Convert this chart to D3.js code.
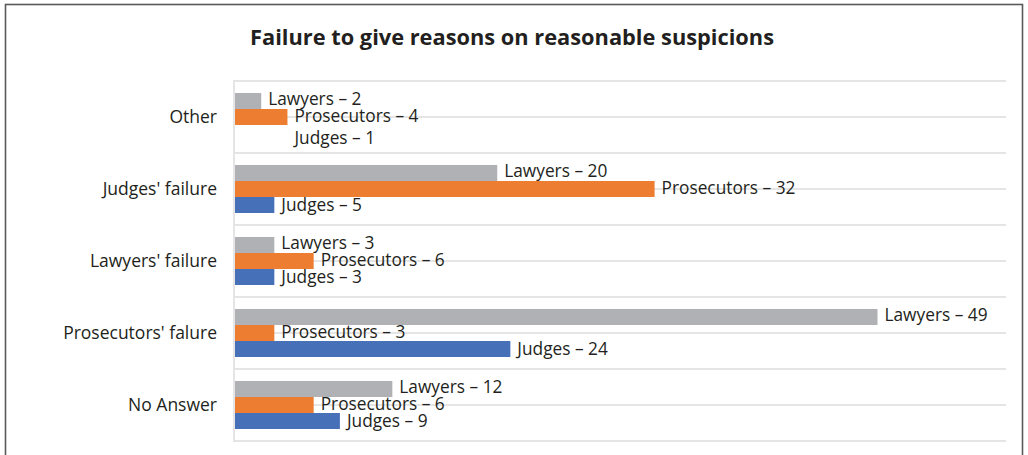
<!DOCTYPE html>
<html>
<head>
<meta charset="utf-8">
<script src="https://cdn.jsdelivr.net/npm/d3@7"></script>
<style>
  html, body { margin: 0; padding: 0; background: #fff; }
  svg { display: block; }
  text { font-family: "Open Sans", "Noto Sans", sans-serif; fill: #231f20; }
</style>
</head>
<body>
<svg id="chart" width="1028" height="455"></svg>
<script>
// ---- data ----
const title = "Failure to give reasons on reasonable suspicions";
const categories = ["Other", "Judges' failure", "Lawyers' failure", "Prosecutors' falure", "No Answer"];
const seriesNames = ["Lawyers", "Prosecutors", "Judges"];
// bar lengths as drawn in the picture
const lawyersBars     = [2, 20, 3, 49, 12];
const prosecutorsBars = [4, 32, 6, 3, 6];
const judgesBars      = [0, 3, 3, 21, 8];
// values written in the labels
const lawyersLabels     = [2, 20, 3, 49, 12];
const prosecutorsLabels = [4, 32, 6, 3, 6];
const judgesLabels      = [1, 5, 3, 24, 9];
const xMax = 58.8;

// ---- build ----
const colors = { Lawyers: "#afb1b4", Prosecutors: "#ed7d31", Judges: "#4670b8" };
const bars = [lawyersBars, prosecutorsBars, judgesBars];
const labels = [lawyersLabels, prosecutorsLabels, judgesLabels];

const svg = d3.select("#chart");
const plot = { left: 235, right: 1006, top: 81, bottom: 441 };

const y = d3.scaleBand().domain(categories).range([plot.top, plot.bottom]).paddingInner(0).paddingOuter(0);
const ySub = d3.scaleBand().domain(seriesNames).range([0, y.bandwidth()]).paddingInner(0).paddingOuter(0.75);
const x = d3.scaleLinear().domain([0, xMax]).range([plot.left, plot.right]);

// outer frame
svg.append("rect")
  .attr("x", 5.5).attr("y", 4.5).attr("width", 1017).attr("height", 480)
  .attr("fill", "none").attr("stroke", "#5a5a5a").attr("stroke-width", 1.6);

// title
svg.append("text")
  .attr("x", 512).attr("y", 45)
  .attr("text-anchor", "middle")
  .style("font-weight", "700").style("font-size", "21.8px")
  .text(title);

// horizontal grid lines at band edges and band centres
const gridYs = [];
categories.forEach(c => { gridYs.push(y(c)); gridYs.push(y(c) + y.bandwidth() / 2); });
gridYs.push(plot.bottom);
svg.append("g").selectAll("line").data(gridYs).join("line")
  .attr("x1", plot.left).attr("x2", plot.right)
  .attr("y1", d => d).attr("y2", d => d)
  .attr("stroke", "#e5e5e5").attr("stroke-width", 2);

// left axis line
svg.append("line")
  .attr("x1", plot.left - 1).attr("x2", plot.left - 1)
  .attr("y1", plot.top - 1).attr("y2", plot.bottom + 1)
  .attr("stroke", "#e5e5e5").attr("stroke-width", 2);

// category axis
const yAxis = d3.axisLeft(y).tickSize(0).tickPadding(18);
const gAxis = svg.append("g").attr("transform", `translate(${plot.left},0)`).call(yAxis);
gAxis.select(".domain").remove();
gAxis.selectAll("text").style("font-size", "17.5px").style("fill", "#231f20")
  .style("font-family", '"Open Sans", sans-serif');

// bars
const rows = [];
categories.forEach((c, i) => {
  seriesNames.forEach((s, k) => {
    rows.push({ cat: c, series: s, bar: bars[k][i], label: labels[k][i], k, i });
  });
});

svg.append("g").selectAll("rect").data(rows.filter(d => d.bar > 0)).join("rect")
  .attr("x", plot.left)
  .attr("y", d => y(d.cat) + ySub(d.series))
  .attr("width", d => x(d.bar) - x(0))
  .attr("height", ySub.bandwidth())
  .attr("fill", d => colors[d.series]);

// labels
function labelX(d) {
  if (d.bar === 0) {
    // no bar drawn: label sits under the neighbouring label
    const prev = rows.find(r => r.cat === d.cat && r.series === "Prosecutors");
    return x(prev.bar) + 7;
  }
  return x(d.bar) + 7;
}
svg.append("g").selectAll("text").data(rows).join("text")
  .attr("x", d => labelX(d))
  .attr("y", d => y(d.cat) + ySub(d.series) + ySub.bandwidth() / 2 + (d.k - 1) * 1.3 - 1 + (d.bar === 0 ? 5 : 0))
  .attr("dy", "0.35em")
  .style("font-size", "17.3px")
  .text(d => `${d.series} \u2013 ${d.label}`);
</script>
</body>
</html>
